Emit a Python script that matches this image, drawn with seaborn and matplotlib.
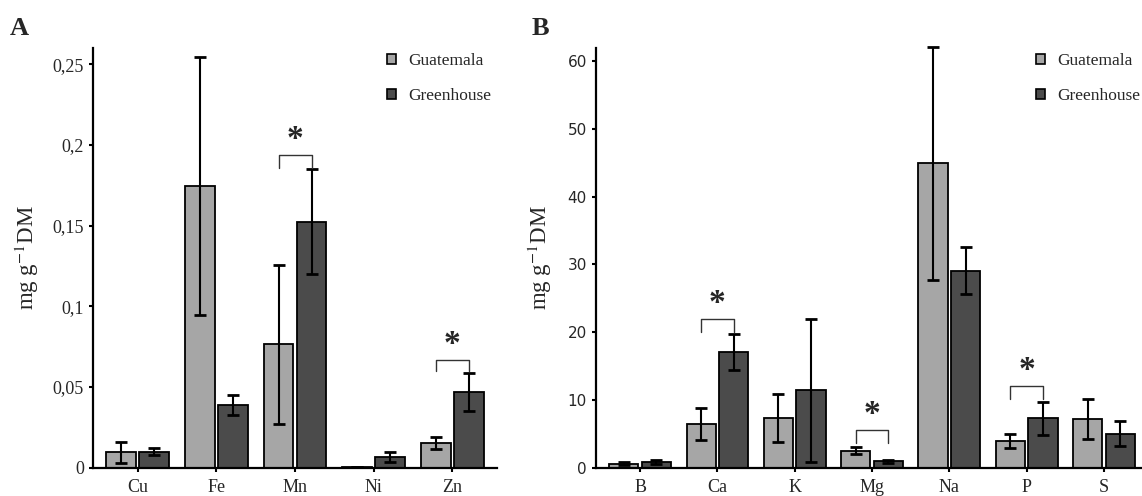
import pandas as pd
import matplotlib.pyplot as plt
import seaborn as sns
from matplotlib.patches import Patch
from matplotlib.ticker import FuncFormatter

# panel A: micro elements (mg g-1 DM)
elements_a = ['Cu', 'Fe', 'Mn', 'Ni', 'Zn']
guat_a = [0.0097, 0.1745, 0.0765, 0.0005, 0.0155]
guat_a_err = [0.0065, 0.0800, 0.0493, 0.0, 0.0038]
green_a = [0.0100, 0.0390, 0.1525, 0.0066, 0.0468]
green_a_err = [0.0022, 0.0062, 0.0323, 0.0029, 0.0116]
# significance brackets: element, bracket height, leg bottom
sig_a = [('Mn', 0.1935, 0.1860), ('Zn', 0.0670, 0.0600)]

# panel B: macro elements
elements_b = ['B', 'Ca', 'K', 'Mg', 'Na', 'P', 'S']
guat_b = [0.6, 6.45, 7.35, 2.5, 44.9, 3.95, 7.2]
guat_b_err = [0.2, 2.3, 3.55, 0.5, 17.2, 1.0, 2.95]
green_b = [0.85, 17.05, 11.4, 0.95, 29.1, 7.3, 5.0]
green_b_err = [0.25, 2.65, 10.5, 0.2, 3.5, 2.45, 1.85]
sig_b = [('Ca', 22.0, 20.1), ('Mg', 5.5, 3.7), ('P', 12.1, 10.15)]

sites = ['Guatemala', 'Greenhouse']
colors = ['#a6a6a6', '#4b4b4b']

sns.set_style('white')
plt.rcParams['font.family'] = ['Liberation Serif', 'DejaVu Serif']
plt.rcParams['mathtext.fontset'] = 'stix'


def make_df(elements, guat, green):
    rows = []
    for e, g in zip(elements, guat):
        rows.append({'element': e, 'site': 'Guatemala', 'value': g})
    for e, g in zip(elements, green):
        rows.append({'element': e, 'site': 'Greenhouse', 'value': g})
    return pd.DataFrame(rows)


def draw_panel(ax, elements, guat, guat_err, green, green_err, sig):
    df = make_df(elements, guat, green)
    sns.barplot(data=df, x='element', y='value', hue='site', hue_order=sites,
                order=elements, palette=colors, errorbar=None, width=0.84,
                gap=0.1, edgecolor='black', linewidth=1.3, legend=False,
                saturation=1, ax=ax)
    centers = []
    for cont, errs in zip(ax.containers, [guat_err, green_err]):
        xs = [p.get_x() + p.get_width() / 2 for p in cont.patches]
        ys = [p.get_height() for p in cont.patches]
        centers.append(xs)
        eb = ax.errorbar(xs, ys, yerr=errs, fmt='none', ecolor='black',
                         elinewidth=1.5, capsize=4, capthick=2, zorder=5)
        for art in eb.lines[1] + eb.lines[2]:
            art.set_clip_on(False)
    for name, top, leg in sig:
        i = elements.index(name)
        x0, x1 = centers[0][i], centers[1][i]
        ax.plot([x0, x0, x1, x1], [leg, top, top, leg], color='#333333',
                lw=1.0, zorder=6)
        ax.text((x0 + x1) / 2, top, '*', ha='center', va='bottom',
                fontsize=24, fontweight='bold', zorder=6)
    sns.despine(ax=ax)
    for s in ['left', 'bottom']:
        ax.spines[s].set_color('black')
        ax.spines[s].set_linewidth(1.6)
    ax.tick_params(axis='both', direction='out', length=3, width=1.5,
                   color='black', left=True, bottom=True)
    ax.tick_params(axis='x', labelsize=13, pad=5)
    ax.set_xlabel('')
    ax.set_xlim(-0.57, len(elements) - 0.43)


fig = plt.figure(figsize=(11.42, 4.96), dpi=100)
ax_a = fig.add_axes([0.0814, 0.057, 0.354, 0.846])
ax_b = fig.add_axes([0.5219, 0.057, 0.4834, 0.847])

draw_panel(ax_a, elements_a, guat_a, guat_a_err, green_a, green_a_err, sig_a)
ax_a.set_ylim(0, 0.26)
ax_a.set_yticks([0, 0.05, 0.1, 0.15, 0.2, 0.25])
ax_a.yaxis.set_major_formatter(FuncFormatter(
    lambda v, p: '0' if v == 0 else ('%g' % round(v, 2)).replace('.', ',')))
ax_a.tick_params(axis='y', labelsize=13)
ax_a.set_ylabel('mg g$^{-1}$DM', fontsize=16.5, labelpad=8)

draw_panel(ax_b, elements_b, guat_b, guat_b_err, green_b, green_b_err, sig_b)
ax_b.set_ylim(0, 62)
ax_b.set_yticks([0, 10, 20, 30, 40, 50, 60])
for lab in ax_b.get_yticklabels():
    lab.set_fontfamily('DejaVu Sans')
    lab.set_fontsize(11)
ax_b.set_ylabel('mg g$^{-1}$DM', fontsize=16.5, labelpad=10)

handles = [Patch(facecolor=c, edgecolor='black', linewidth=1.2) for c in colors]
for ax, pos in [(ax_a, (387 / 1142, 1 - 53 / 496)), (ax_b, (1036 / 1142, 1 - 53 / 496))]:
    ax.legend(handles, sites, loc='upper left', bbox_to_anchor=pos,
              bbox_transform=fig.transFigure, frameon=False, fontsize=12.5,
              handlelength=0.5, handleheight=0.5, handletextpad=0.75,
              labelspacing=1.1, borderpad=0, borderaxespad=0)

fig.text(10 / 1142, 1 - 35 / 496, 'A', fontsize=19, fontweight='bold',
         va='baseline')
fig.text(532 / 1142, 1 - 35 / 496, 'B', fontsize=19, fontweight='bold',
         va='baseline')

plt.savefig('out.png', dpi=100)
